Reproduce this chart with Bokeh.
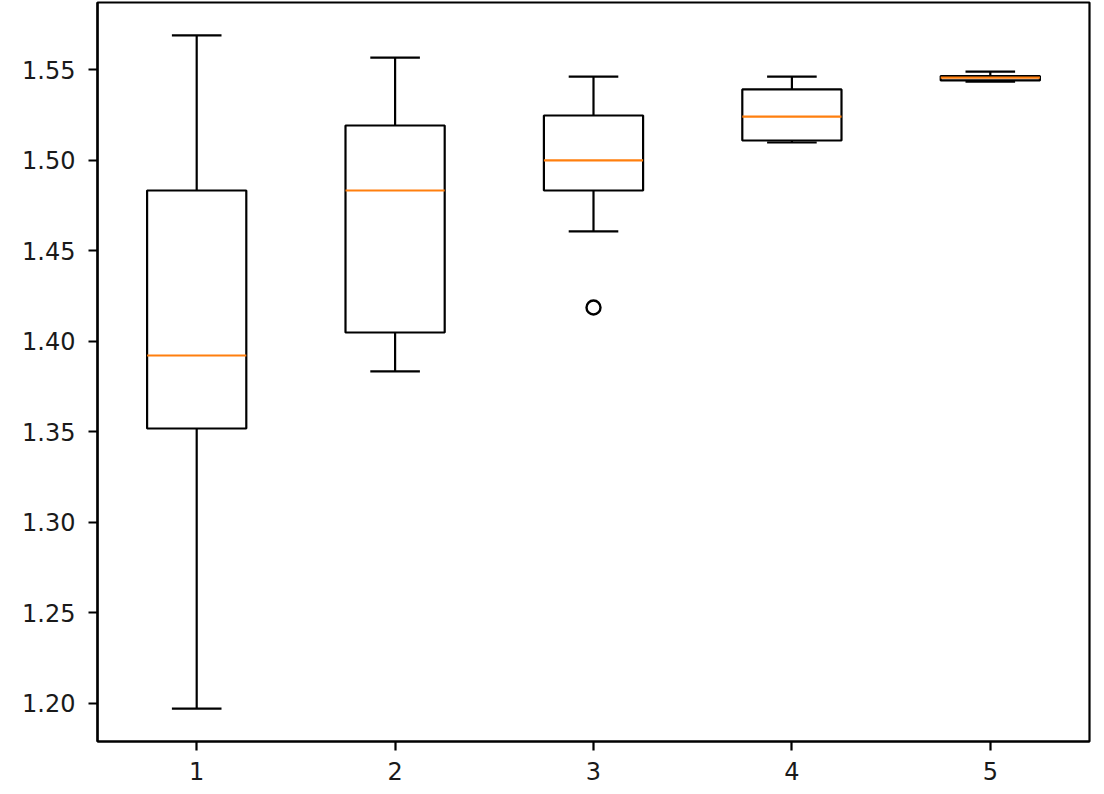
from bokeh.plotting import figure
from bokeh.models import Range1d, FixedTicker, CustomJSTickFormatter, ColumnDataSource
from bokeh.embed import file_html
from bokeh.resources import INLINE

# data
positions = [1, 2, 3, 4, 5]
whisker_low = [1.1972, 1.3833, 1.4606, 1.5097, 1.5433]
q1 = [1.3518, 1.4048, 1.4832, 1.5108, 1.5440]
median = [1.3921, 1.4832, 1.4998, 1.5240, 1.5455]
q3 = [1.4832, 1.5191, 1.5246, 1.5390, 1.5464]
whisker_high = [1.5688, 1.5566, 1.5461, 1.5461, 1.5488]
outlier_x = [3]
outlier_y = [1.4186]
y_ticks = [1.20, 1.25, 1.30, 1.35, 1.40, 1.45, 1.50, 1.55]

box_w = 0.5
cap_w = 0.25

src = ColumnDataSource(dict(
    x=positions,
    left=[p - box_w / 2 for p in positions],
    right=[p + box_w / 2 for p in positions],
    cl=[p - cap_w / 2 for p in positions],
    cr=[p + cap_w / 2 for p in positions],
    lo=whisker_low, q1=q1, med=median, q3=q3, hi=whisker_high,
))

p = figure(output_backend="svg", toolbar_location=None,
           frame_width=992, frame_height=739,
           min_border_left=97, min_border_right=15, min_border_top=2, min_border_bottom=53,
           x_range=Range1d(0.5, 5.5), y_range=Range1d(1.179, 1.587))

lw = 2.2
# whiskers
p.segment(x0="x", y0="lo", x1="x", y1="q1", source=src, line_color="black", line_width=lw)
p.segment(x0="x", y0="q3", x1="x", y1="hi", source=src, line_color="black", line_width=lw)
# caps
p.segment(x0="cl", y0="lo", x1="cr", y1="lo", source=src, line_color="black", line_width=lw)
p.segment(x0="cl", y0="hi", x1="cr", y1="hi", source=src, line_color="black", line_width=lw)
# boxes
p.quad(left="left", right="right", bottom="q1", top="q3", source=src,
       fill_color=None, line_color="black", line_width=lw)
# medians
p.segment(x0="left", y0="med", x1="right", y1="med", source=src, line_color="#ff7f0e", line_width=lw)
# outliers
p.scatter(outlier_x, outlier_y, marker="circle", size=14, fill_color=None,
          line_color="black", line_width=2.4)

p.grid.visible = False
p.outline_line_color = "black"
p.outline_line_width = 2.2

for ax in (p.xaxis[0], p.yaxis[0]):
    ax.axis_line_color = "black"
    ax.axis_line_width = 2.2
    ax.major_tick_line_color = "black"
    ax.major_tick_line_width = 2.2
    ax.major_tick_out = 9
    ax.major_tick_in = 0
    ax.minor_tick_line_color = None
    ax.major_label_text_font = "DejaVu Sans"
    ax.major_label_text_font_size = "24px"
    ax.major_label_text_color = "#1a1a1a"

p.xaxis.ticker = FixedTicker(ticks=positions)
p.xaxis.major_label_standoff = 11
p.yaxis.ticker = FixedTicker(ticks=y_ticks)
p.yaxis.formatter = CustomJSTickFormatter(code="return tick.toFixed(2);")
p.yaxis.major_label_standoff = 13

open("out.html", "w").write(file_html(p, INLINE))
